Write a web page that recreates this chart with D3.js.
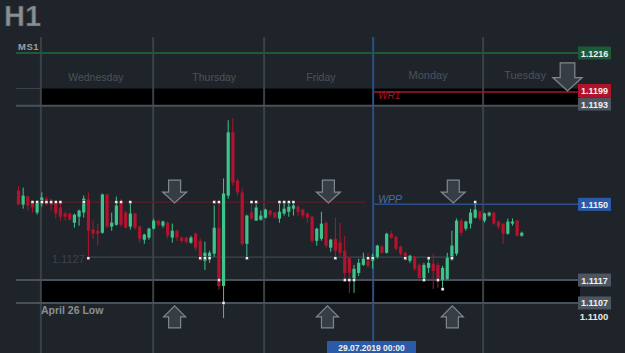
<!DOCTYPE html>
<html><head><meta charset="utf-8">
<script src="https://cdn.jsdelivr.net/npm/d3@7/dist/d3.min.js"></script>
<style>
html,body{margin:0;padding:0;background:#1f242a;}
svg{display:block;font-family:"Liberation Sans",Arial,sans-serif;}
</style></head>
<body>
<svg id="c" width="625" height="353"></svg>
<script>
const opens = [1.11560,1.11499,1.11534,1.11512,1.11464,1.11503,1.11525,1.11521,1.11503,1.11486,
1.11460,1.11460,1.11420,1.11446,1.11464,1.11521,1.11390,1.11385,1.11376,1.11543,
1.11403,1.11411,1.11516,1.11464,1.11403,1.11460,1.11403,1.11346,1.11355,1.11394,
1.11429,1.11407,1.11420,1.11355,1.11385,1.11355,1.11355,1.11333,1.11372,1.11341,
1.11254,1.11267,1.11285,1.11398,1.11144,1.11538,1.11814,1.11604,1.11552,1.11328,
1.11464,1.11429,1.11433,1.11442,1.11473,1.11464,1.11438,1.11460,1.11468,1.11481,
1.11490,1.11477,1.11460,1.11446,1.11341,1.11350,1.11420,1.11311,1.11350,1.11333,
1.11298,1.11267,1.11166,1.11201,1.11236,1.11254,1.11254,1.11271,1.11315,1.11289,
1.11372,1.11359,1.11315,1.11289,1.11254,1.11271,1.11236,1.11166,1.11223,1.11241,
1.11236,1.11171,1.11175,1.11263,1.11285,1.11429,1.11394,1.11416,1.11442,1.11468,
1.11429,1.11451,1.11464,1.11425,1.11416,1.11372,1.11416,1.11429,1.11363];
const highs = [1.11578,1.11573,1.11538,1.11516,1.11516,1.11552,1.11534,1.11525,1.11516,1.11516,
1.11468,1.11464,1.11460,1.11477,1.11538,1.11552,1.11429,1.11416,1.11547,1.11547,
1.11464,1.11534,1.11525,1.11473,1.11512,1.11464,1.11407,1.11372,1.11398,1.11438,
1.11433,1.11429,1.11425,1.11416,1.11390,1.11359,1.11359,1.11363,1.11376,1.11350,
1.11337,1.11298,1.11495,1.11503,1.11613,1.11867,1.11875,1.11613,1.11569,1.11455,
1.11499,1.11499,1.11473,1.11481,1.11477,1.11468,1.11503,1.11503,1.11503,1.11503,
1.11495,1.11481,1.11464,1.11451,1.11398,1.11468,1.11425,1.11350,1.11442,1.11420,
1.11363,1.11267,1.11236,1.11263,1.11289,1.11289,1.11285,1.11324,1.11324,1.11376,
1.11385,1.11363,1.11320,1.11293,1.11280,1.11276,1.11241,1.11245,1.11267,1.11285,
1.11245,1.11232,1.11289,1.11385,1.11438,1.11438,1.11429,1.11481,1.11503,1.11473,
1.11464,1.11468,1.11468,1.11429,1.11416,1.11438,1.11438,1.11433,1.11381];
const lows = [1.11499,1.11481,1.11473,1.11464,1.11455,1.11490,1.11495,1.11473,1.11438,1.11429,
1.11429,1.11429,1.11398,1.11407,1.11442,1.11263,1.11350,1.11320,1.11372,1.11398,
1.11385,1.11407,1.11403,1.11394,1.11390,1.11390,1.11333,1.11328,1.11346,1.11390,
1.11403,1.11398,1.11350,1.11333,1.11341,1.11333,1.11328,1.11328,1.11298,1.11254,
1.11214,1.11245,1.11271,1.11127,1.11004,1.11525,1.11582,1.11538,1.11320,1.11263,
1.11433,1.11429,1.11429,1.11438,1.11446,1.11438,1.11420,1.11451,1.11446,1.11451,
1.11451,1.11438,1.11420,1.11333,1.11320,1.11341,1.11311,1.11293,1.11263,1.11276,
1.11166,1.11114,1.11114,1.11188,1.11232,1.11223,1.11219,1.11263,1.11285,1.11285,
1.11350,1.11298,1.11276,1.11254,1.11245,1.11210,1.11175,1.11166,1.11201,1.11131,
1.11136,1.11123,1.11171,1.11254,1.11276,1.11363,1.11385,1.11394,1.11438,1.11429,
1.11420,1.11446,1.11411,1.11394,1.11328,1.11368,1.11407,1.11359,1.11359];
const closes = [1.11499,1.11538,1.11495,1.11486,1.11508,1.11530,1.11503,1.11499,1.11460,1.11446,
1.11446,1.11433,1.11455,1.11473,1.11525,1.11385,1.11372,1.11372,1.11543,1.11403,
1.11420,1.11495,1.11411,1.11398,1.11460,1.11398,1.11350,1.11368,1.11394,1.11429,
1.11411,1.11425,1.11363,1.11385,1.11355,1.11341,1.11337,1.11355,1.11311,1.11267,
1.11289,1.11289,1.11398,1.11144,1.11547,1.11814,1.11595,1.11552,1.11328,1.11451,
1.11438,1.11486,1.11451,1.11477,1.11455,1.11442,1.11468,1.11481,1.11490,1.11495,
1.11468,1.11451,1.11442,1.11341,1.11394,1.11416,1.11320,1.11346,1.11298,1.11289,
1.11201,1.11201,1.11219,1.11245,1.11263,1.11232,1.11276,1.11320,1.11289,1.11372,
1.11355,1.11306,1.11285,1.11267,1.11276,1.11219,1.11179,1.11236,1.11245,1.11210,
1.11179,1.11223,1.11267,1.11320,1.11429,1.11376,1.11425,1.11464,1.11477,1.11438,
1.11460,1.11464,1.11416,1.11403,1.11372,1.11425,1.11425,1.11363,1.11376];

// touch markers: candle index and price
const dotIndex = [3,4,5,6,7,8,9,14,15,21,22,24,39,40,41,42,43,43,44,49,50,51,56,57,58,59,68,70,71,72,75,76,83,87,88,90,91,93,98];
const dotPrice = [1.1151,1.1151,1.1151,1.1151,1.1151,1.1151,1.1151,1.1151,1.11265,1.1151,1.1151,1.1151,
1.11265,1.11265,1.11265,1.1151,1.1151,1.1117,1.1107,1.11265,1.1151,1.1151,1.1151,1.1151,1.1151,1.1151,
1.11265,1.1117,1.1117,1.1117,1.11265,1.11265,1.11265,1.1117,1.11265,1.1117,1.1113,1.11265,1.1151];

const dayNames = ["Wednesday","Thursday","Friday","Monday","Tuesday"];
const dayStart = [4.8,28.9,52.7,76.1,99.7];     // candle-index of each day's start
const dayLabelAt = [16.6,42,64.9,87.9,108.7];

const levelValues = [1.1216,1.1199,1.1193,1.1150,1.1117,1.1107];
const levelLabels = ["1.1216","1.1199","1.1193","1.1150","1.1117","1.1107"];
const bottomTick = "1.1100";
const innerLevel = 1.1127, innerLevelLabel = "1.1127";
const prevPivot = 1.1151;
const downArrowIdx = [33.5, 66.5, 93.3];
const upArrowIdx = [33.5, 66.3, 93.1];
const dateLabel = "29.07.2019 00:00";

const svg = d3.select("#c");
const W = 625, H = 353;
const x = d3.scaleLinear().domain([0,108]).range([18.5,521.8]);
const y = d3.scaleLinear().domain([1.1100,1.1216]).range([319,53]);
const L = 16, R = 580, BL = 41;
const mondayX = x(dayStart[3]);

svg.append("rect").attr("width",W).attr("height",H).attr("fill","#1f242a");

// title
svg.append("text").attr("x",4).attr("y",26).text("H1")
  .attr("font-size",29).attr("font-weight","bold").attr("fill","#8b8f94")
  .attr("stroke","#3a3f44").attr("stroke-width",0.6);
svg.append("text").attr("x",18).attr("y",50).text("MS1")
  .attr("font-size",9.5).attr("font-weight","bold").attr("fill","#9aa0a6").attr("letter-spacing",0.5);

// black bands
svg.append("rect").attr("x",BL).attr("y",y(1.12005)).attr("width",R-BL).attr("height",y(1.1193)-y(1.12005)).attr("fill","#000");
svg.append("rect").attr("x",BL).attr("y",y(1.1117)).attr("width",R-BL).attr("height",y(1.1107)-y(1.1117)).attr("fill","#000");
svg.append("line").attr("x1",L).attr("x2",BL).attr("y1",y(1.12005)).attr("y2",y(1.12005)).attr("stroke","#3a434b").attr("stroke-width",1);

// vertical day separators
dayStart.forEach((d,i)=>{
  const xx = x(d);
  svg.append("line").attr("x1",xx).attr("x2",xx).attr("y1",37).attr("y2", i===3?341:H)
    .attr("stroke", i===3?"#2c4e86":"#3a4148").attr("stroke-width", 2);
});

// day labels
dayNames.forEach((n,i)=>{
  svg.append("text").attr("x",x(dayLabelAt[i])).attr("y", i>=3?79:81).attr("text-anchor","middle")
    .attr("font-size", i>=3?11:10.5).attr("fill","#4b535a").text(n);
});

// level lines
const lvl = (p,x1,x2,col,w)=>svg.append("line").attr("x1",x1).attr("x2",x2).attr("y1",y(p)).attr("y2",y(p)).attr("stroke",col).attr("stroke-width",w);
lvl(levelValues[0],L,R,"#1d5a39",2.2);
lvl(levelValues[2],L,R,"#49525a",2);
lvl(levelValues[1],mondayX,R,"#a8152c",1.5);
lvl(levelValues[3],mondayX,R,"#2c4f89",1.5);
lvl(prevPivot,x(3),x(74.5),"#5f1a24",1.2);
lvl(innerLevel,x(15),x(93),"#3d4650",1.2);
lvl(levelValues[4],L,R,"#49525a",2);
lvl(levelValues[5],L,R,"#49525a",2);

svg.append("text").attr("x",mondayX+5).attr("y",y(levelValues[1])+7).text("WR1")
  .attr("font-size",10).attr("font-style","italic").attr("fill","#a8152c");
svg.append("text").attr("x",mondayX+5).attr("y",y(levelValues[3])-1).text("WPP")
  .attr("font-size",10.5).attr("font-style","italic").attr("fill","#4a6ca6");
svg.append("text").attr("x",52).attr("y",y(innerLevel)+6).text(innerLevelLabel)
  .attr("font-size",11).attr("fill","#3b434a");
svg.append("text").attr("x",41).attr("y",314).text("April 26 Low")
  .attr("font-size",10.5).attr("font-weight","bold").attr("fill","#8a8f94");

// arrows
function downArrow(cx, ty, s){
  const p = [[-6,-23],[6,-23],[6,-11],[12,-11],[0,0],[-12,-11],[-6,-11]].map(([a,b])=>[cx+a*s, ty+b*s]);
  svg.append("path").attr("d","M"+p.join("L")+"Z").attr("fill","#363d44").attr("stroke","#80878d").attr("stroke-width",1.2);
}
function upArrow(cx, ty, s){
  const p = [[-6,22],[6,22],[6,11],[11,11],[0,0],[-11,11],[-6,11]].map(([a,b])=>[cx+a*s, ty+b*s]);
  svg.append("path").attr("d","M"+p.join("L")+"Z").attr("fill","#363d44").attr("stroke","#80878d").attr("stroke-width",1.2);
}
downArrowIdx.forEach(d=>downArrow(x(d), y(prevPivot)+1, 1));
upArrowIdx.forEach(d=>upArrow(x(d), y(levelValues[5])+3, 1));
downArrow(567.5, y(levelValues[1])-1, 1.22);

// candles
const data = opens.map((o,i)=>({i,o,h:highs[i],l:lows[i],c:closes[i]}));
const up = "#3ec48b", dn = "#b3132d";
const g = svg.append("g");
g.selectAll("line.w").data(data).enter().append("line")
  .attr("x1",d=>x(d.i)).attr("x2",d=>x(d.i)).attr("y1",d=>y(d.h)).attr("y2",d=>y(d.l))
  .attr("stroke",d=>d.c>=d.o?up:dn).attr("stroke-width",1);
g.selectAll("rect.b").data(data).enter().append("rect")
  .attr("x",d=>x(d.i)-1.6).attr("width",3.2)
  .attr("y",d=>y(Math.max(d.o,d.c))).attr("height",d=>Math.max(1.2,Math.abs(y(d.o)-y(d.c))))
  .attr("fill",d=>d.c>=d.o?up:dn);

// touch dots
svg.selectAll("rect.dot").data(dotIndex).enter().append("rect")
  .attr("x",(d)=>x(d)-1.5).attr("y",(d,i)=>y(dotPrice[i])-1.5).attr("width",3).attr("height",3)
  .attr("fill","#f2f2f2").attr("stroke","#111").attr("stroke-width",0.4);

// right price boxes
const boxCol = ["#1d5a39","#b0142c","#4d5660","#2b5aa8","#4d5660","#4d5660"];
levelValues.forEach((v,i)=>{
  const yy = y(v);
  let cy = yy;
  if (i===1) cy = 90.5; if (i===2) cy = 104;
  svg.append("rect").attr("x",578).attr("y",cy-6.5).attr("width",33).attr("height",13).attr("fill",boxCol[i]);
  svg.append("text").attr("x",594.5).attr("y",cy+3.5).attr("text-anchor","middle")
    .attr("font-size",9).attr("font-weight","bold").attr("fill","#f0f0f0").text(levelLabels[i]);
});
svg.append("text").attr("x",594).attr("y",320).attr("text-anchor","middle")
  .attr("font-size",9.5).attr("font-weight","bold").attr("fill","#e8e8e8").text(bottomTick);

// date label
svg.append("rect").attr("x",327).attr("y",341).attr("width",89).attr("height",12).attr("fill","#2b5aa8");
svg.append("text").attr("x",371.5).attr("y",350.5).attr("text-anchor","middle")
  .attr("font-size",8.5).attr("font-weight","bold").attr("fill","#f0f0f0").text(dateLabel);
</script>
</body></html>
